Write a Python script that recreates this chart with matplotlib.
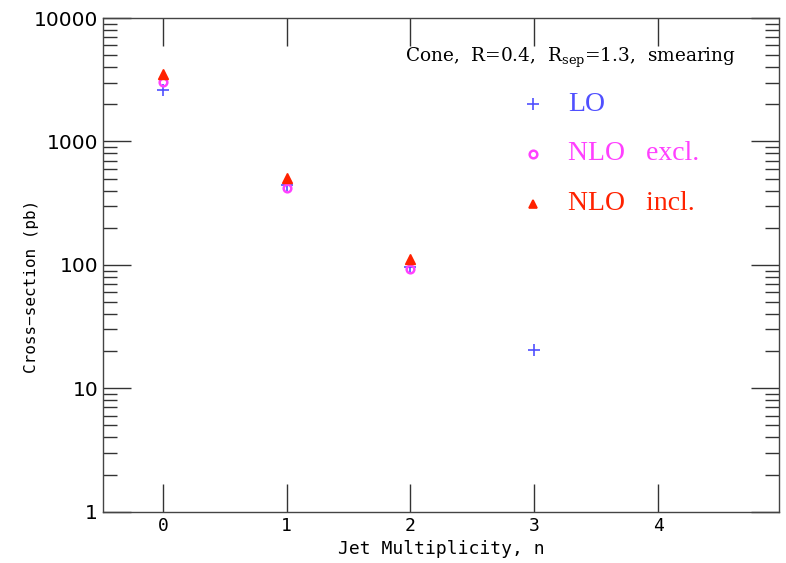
import numpy as np
import matplotlib.pyplot as plt
from matplotlib.ticker import LogLocator, NullFormatter, FixedLocator

# jet multiplicity and cross sections (pb)
n_lo = [0, 1, 2, 3]
xs_lo = [2600, 445, 96, 20.5]
n_nlo = [0, 1, 2]
xs_nlo_excl = [3050, 420, 92]
xs_nlo_incl = [3550, 510, 112]

fig = plt.figure(figsize=(7.86, 5.63), dpi=100)
ax = fig.add_axes([0.131, 0.091, 0.860, 0.877])

ax.plot(n_lo, xs_lo, ls='none', marker='+', ms=9, mew=1.2, color='#5050ff')
ax.plot(n_nlo, xs_nlo_excl, ls='none', marker='o', ms=5.5, mew=1.8,
        mfc='none', mec='#ff40ff')
ax.plot(n_nlo, xs_nlo_incl, ls='none', marker='^', ms=7, color='#ff2200')

ax.set_yscale('log')
ax.set_ylim(1, 10000)
ax.set_xlim(-0.484, 4.976)
ax.set_xticks([0, 1, 2, 3, 4])
ax.yaxis.set_major_locator(FixedLocator([1, 10, 100, 1000, 10000]))
ax.set_yticklabels(['1', '10', '100', '1000', '10000'])
ax.yaxis.set_minor_locator(LogLocator(base=10, subs=np.arange(2, 10)))
ax.yaxis.set_minor_formatter(NullFormatter())

ax.tick_params(which='both', direction='in', top=True, right=True,
               labelsize=14.5, width=1, color='#333333')
ax.tick_params(which='major', length=20)
ax.tick_params(which='minor', length=10)
ax.tick_params(axis='x', labelsize=13)
for lab in ax.get_xticklabels():
    lab.set_family('DejaVu Sans Mono')
for s in ax.spines.values():
    s.set_linewidth(1)
    s.set_color('#444444')

ax.set_xlabel('Jet Multiplicity, n', fontsize=13, family='DejaVu Sans Mono')
ax.set_ylabel('Cross\u2212section (pb)', fontsize=11.5, family='DejaVu Sans Mono')
ax.yaxis.set_label_coords(-0.095, 0.457)

ax.text(0.937, 0.92, 'Cone,  R=0.4,  R$_{\\mathregular{sep}}$=1.3,  smearing',
        transform=ax.transAxes, ha='right', va='center', fontsize=13.3,
        family='DejaVu Serif')

# legend drawn by hand
leg = [('+', '#5050ff', 'LO', 'none'),
       ('o', '#ff40ff', 'NLO   excl.', 'none'),
       ('^', '#ff2200', 'NLO   incl.', '#ff2200')]
for i, (m, c, lab, fc) in enumerate(leg):
    yy = 0.825 - i * 0.1004
    ax.plot([0.636], [yy], transform=ax.transAxes, ls='none', marker=m,
            ms=8 if m == '+' else 5.5, mew=1.2 if m != 'o' else 1.8,
            mfc=fc, mec=c, color=c)
    ax.text(0.688, yy, lab, transform=ax.transAxes,
            ha='left', va='center', fontsize=20, color=c,
            family='Liberation Serif')

fig.savefig('out.png', dpi=100)
